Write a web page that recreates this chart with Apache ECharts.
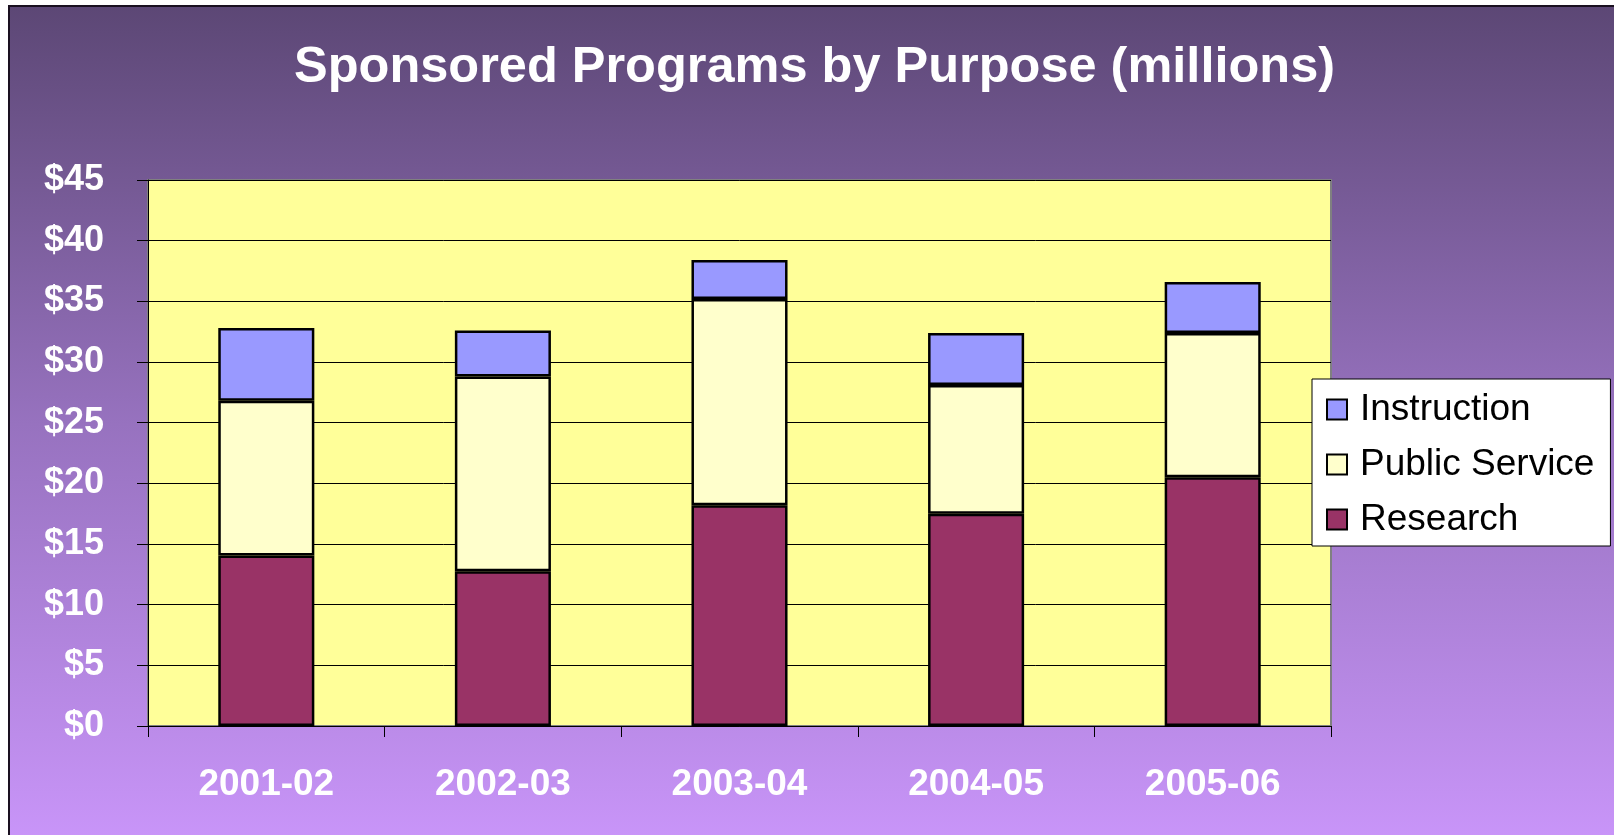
<!DOCTYPE html>
<html>
<head>
<meta charset="utf-8">
<script src="https://cdn.jsdelivr.net/npm/echarts@6/dist/echarts.min.js"></script>
<style>
  html, body { margin: 0; padding: 0; background: #ffffff; }
  #chart { width: 1614px; height: 835px; }
</style>
</head>
<body>
<div id="chart"></div>
<script>
const titleText = 'Sponsored Programs by Purpose (millions)';
const categories = ['2001-02', '2002-03', '2003-04', '2004-05', '2005-06'];
const research = [14.05, 12.75, 18.2, 17.5, 20.5];
const publicService = [12.75, 16.05, 17.0, 10.6, 11.9];
const instruction = [6.0, 3.8, 3.2, 4.3, 4.2];
const yTicks = { min: 0, max: 45, interval: 5 };

const FONT = '"Liberation Sans", Arial, sans-serif';
const chart = echarts.init(document.getElementById('chart'), null, { renderer: 'canvas' });

function barSeries(name, data, color) {
  return {
    name: name,
    type: 'bar',
    stack: 'total',
    data: data,
    barWidth: '40.6%',
    itemStyle: { color: color, borderColor: '#000000', borderWidth: 2.5 },
    emphasis: { disabled: true }
  };
}

chart.setOption({
  animation: false,
  backgroundColor: 'transparent',
  graphic: [{
    type: 'rect',
    z: -100,
    silent: true,
    shape: { x: 9, y: 6, width: 1620, height: 836 },
    style: {
      fill: new echarts.graphic.LinearGradient(0, 0, 0, 1, [
        { offset: 0, color: '#5c4775' },
        { offset: 0.5, color: '#9772bf' },
        { offset: 1, color: '#c995f9' }
      ]),
      stroke: '#1a1020',
      lineWidth: 2
    }
  }],
  title: {
    text: titleText,
    left: 294,
    top: 43,
    padding: 0,
    textStyle: { color: '#ffffff', fontSize: 50.5, fontWeight: 'bold', fontFamily: FONT }
  },
  legend: {
    orient: 'vertical',
    left: 1312,
    top: 379,
    data: ['Instruction', 'Public Service', 'Research'],
    backgroundColor: '#ffffff',
    borderColor: '#000000',
    borderWidth: 1,
    padding: [12, 16, 8, 14],
    itemWidth: 20,
    itemHeight: 20,
    itemGap: 18,
    icon: 'rect',
    selectedMode: false,
    textStyle: { color: '#000000', fontSize: 37, fontFamily: FONT, padding: [0, 0, 0, 8] }
  },
  grid: {
    left: 148,
    top: 180,
    right: 283,
    bottom: 109,
    show: true,
    backgroundColor: '#ffff99',
    borderColor: '#808080',
    borderWidth: 2
  },
  xAxis: {
    type: 'category',
    data: categories,
    axisLine: { show: true, lineStyle: { color: '#000000', width: 1 } },
    axisTick: { show: true, length: 11, lineStyle: { color: '#000000' } },
    axisLabel: { color: '#ffffff', fontSize: 37, fontWeight: 'bold', fontFamily: FONT, margin: 40 },
    splitLine: { show: false }
  },
  yAxis: {
    type: 'value',
    min: yTicks.min,
    max: yTicks.max,
    interval: yTicks.interval,
    axisLine: { show: true, lineStyle: { color: '#000000', width: 1 } },
    axisTick: { show: true, length: 11, lineStyle: { color: '#000000' } },
    axisLabel: {
      color: '#ffffff', fontSize: 36, fontWeight: 'bold', fontFamily: FONT, margin: 44,
      formatter: function (v) { return '$' + v; }
    },
    splitLine: { show: true, lineStyle: { color: '#000000', width: 1 } }
  },
  series: [
    barSeries('Research', research, '#993366'),
    barSeries('Public Service', publicService, '#ffffcc'),
    barSeries('Instruction', instruction, '#9999ff')
  ]
});
</script>
</body>
</html>
